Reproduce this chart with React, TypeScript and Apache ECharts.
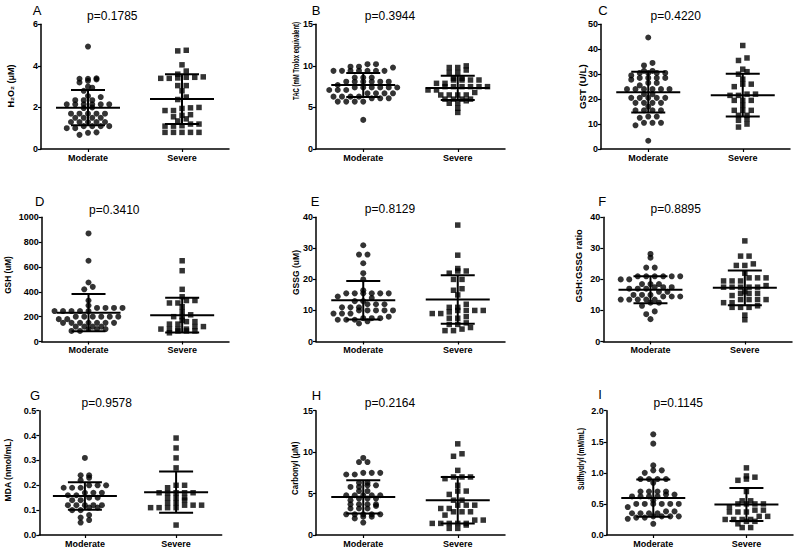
import React, { useEffect, useRef } from 'react';
import * as echarts from 'echarts';

const groups = ['Moderate', 'Severe'];

// A: H2O2
const A_mod = [4.93, 3.4, 3.38, 3.38, 3.35, 3.28, 3.2, 3.0, 2.95, 2.8, 2.55, 2.5, 2.35, 2.35, 2.35, 2.15, 2.15, 2.15, 2.15, 2.15, 2.15, 2.0, 1.97, 1.7, 1.7, 1.7, 1.7, 1.7, 1.5, 1.5, 1.5, 1.5, 1.3, 1.3, 1.3, 1.3, 1.3, 1.1, 1.1, 1.1, 1.1, 1.0, 1.0, 0.8, 0.78, 0.68];
const A_sev = [4.75, 4.72, 4.05, 3.75, 3.6, 3.47, 3.45, 3.45, 3.42, 3.4, 3.4, 3.05, 3.05, 2.8, 2.5, 2.38, 2.0, 1.98, 1.95, 1.85, 1.85, 1.65, 1.62, 1.55, 1.45, 1.35, 1.2, 1.2, 1.12, 1.1, 1.1, 0.8, 0.8, 0.8, 0.8, 0.8];
const A_mean = [1.99, 2.4];
const A_sd = [0.85, 1.2];

// B: TAC
const B_mod = [10.2, 10.2, 9.9, 9.9, 9.8, 9.4, 9.4, 9.4, 9.4, 9.4, 9.4, 9.4, 8.6, 8.6, 8.6, 8.1, 8.1, 8.1, 8.1, 8.1, 8.1, 7.7, 7.4, 7.4, 7.4, 7.4, 7.4, 7.4, 7.1, 7.1, 7.1, 6.7, 6.7, 6.7, 6.7, 6.3, 6.3, 6.3, 6.3, 6.1, 6.1, 6.1, 5.7, 5.7, 5.7, 5.7, 3.5];
const B_sev = [10.0, 9.8, 9.8, 9.5, 9.2, 9.2, 8.5, 8.5, 8.3, 8.3, 8.3, 8.3, 7.9, 7.9, 7.5, 7.5, 7.5, 7.5, 7.5, 7.5, 7.1, 7.1, 6.8, 6.5, 6.5, 6.5, 6.5, 6.0, 6.0, 6.0, 6.0, 5.8, 5.5, 5.5, 4.9, 4.4];
const B_mean = [7.7, 7.35];
const B_sd = [1.45, 1.47];

// C: GST
const C_mod = [44.7, 34.5, 33.5, 31.3, 31.3, 30.5, 30.5, 30.5, 30.5, 29.5, 28.5, 28.5, 28.5, 28.5, 27.8, 26.5, 26.5, 25.5, 24, 24, 24, 24, 24, 24, 22, 22, 20.5, 20.5, 20.5, 20.5, 20.5, 18.5, 18.5, 18.5, 18.5, 17, 15.5, 15.5, 15.5, 15.5, 13, 13, 12.5, 10.5, 10.5, 10.5, 9.5, 3.3];
const C_sev = [41.5, 36.5, 35.5, 32, 31, 30, 28, 26, 26, 25, 22, 22, 21.5, 21.5, 19.5, 19.5, 19.5, 17.5, 15.5, 15.5, 15.5, 13.5, 13.5, 12, 11.5, 10, 8.8];
const C_mean = [22.8, 21.6];
const C_sd = [8.2, 8.6];

// D: GSH
const D_mod = [870, 650, 475, 440, 420, 330, 290, 270, 270, 270, 270, 245, 245, 245, 245, 245, 200, 200, 200, 200, 200, 200, 180, 180, 150, 150, 150, 150, 150, 150, 150, 120, 120, 120, 120, 100, 100, 100, 85, 85];
const D_sev = [650, 570, 420, 360, 330, 330, 310, 310, 280, 240, 215, 200, 200, 170, 160, 160, 140, 140, 120, 120, 100, 100, 100, 100, 85, 85, 85, 70];
const D_mean = [232, 212];
const D_sd = [150, 140];

// E: GSSG
const E_mod = [31, 28, 28, 25.2, 22, 20, 16.5, 15.5, 15.5, 15.5, 15.5, 15.5, 15.5, 14.5, 14, 13, 13, 12, 12, 12, 11, 11, 11, 10, 10, 10, 10, 10, 9, 9, 9, 8, 7.5, 7.5, 7.5, 7, 7, 7, 6.5, 5.8];
const E_sev = [37.5, 27.8, 23.5, 22.7, 22.7, 22, 20, 20, 17, 16.5, 15, 12, 11, 11, 10, 10, 10, 10, 9.5, 9, 9, 8, 7.5, 7.5, 6, 5.5, 5.5, 4.5, 4, 3.5, 3.5];
const E_mean = [13.3, 13.5];
const E_sd = [6.2, 7.8];

// F: GSH:GSSG ratio
const F_mod = [28.2, 27, 23.8, 23.8, 21, 21, 21, 21, 21, 21, 20, 20, 18.5, 18.5, 18.5, 17.5, 17.5, 17.5, 17, 17, 17, 16, 16, 15, 15, 15, 14.5, 14.5, 14.5, 13.5, 13.5, 13.5, 13.5, 13.5, 12.5, 12.5, 11.5, 9.7, 8.8, 7.2];
const F_sev = [32.4, 27.5, 27.5, 25, 24.5, 24.5, 22, 20.5, 20.5, 20.5, 19.5, 19.5, 19.5, 18, 17.5, 17.5, 17.5, 17.5, 17.5, 16, 15.5, 15.5, 15.5, 14.8, 13.5, 13.5, 13.5, 13.5, 12.5, 12.5, 11.5, 11, 11, 11, 8.5, 7];
const F_mean = [16.7, 17.3];
const F_sd = [4.35, 5.6];

// G: MDA
const G_mod = [0.31, 0.24, 0.24, 0.23, 0.22, 0.2, 0.2, 0.2, 0.19, 0.19, 0.19, 0.17, 0.17, 0.17, 0.16, 0.16, 0.15, 0.15, 0.14, 0.14, 0.12, 0.12, 0.12, 0.12, 0.12, 0.11, 0.11, 0.1, 0.1, 0.08, 0.07, 0.06, 0.05];
const G_sev = [0.39, 0.35, 0.31, 0.27, 0.2, 0.2, 0.19, 0.17, 0.17, 0.17, 0.17, 0.17, 0.15, 0.15, 0.15, 0.14, 0.13, 0.13, 0.12, 0.12, 0.12, 0.11, 0.11, 0.11, 0.11, 0.04];
const G_mean = [0.157, 0.172];
const G_sd = [0.055, 0.083];

// H: Carbonyl
const H_mod = [9.3, 8.8, 8.8, 7.5, 7.5, 7.5, 7.3, 7.3, 6.3, 6.3, 6.0, 6.0, 5.8, 5.8, 5.3, 5.3, 4.8, 4.8, 4.8, 4.8, 4.8, 4.4, 4.4, 4.4, 4.2, 3.7, 3.7, 3.7, 3.7, 3.5, 3.2, 3.2, 3.2, 2.5, 2.5, 2.5, 2.5, 2.5, 2.2, 2.2, 2.0, 1.5];
const H_sev = [11, 9.8, 9.5, 7.8, 7.0, 7.0, 7.0, 6.8, 6.0, 5.3, 5.3, 4.9, 4.2, 4.2, 3.6, 3.6, 3.6, 3.2, 3.2, 2.8, 2.8, 2.8, 2.4, 1.8, 1.8, 1.4, 1.4, 1.4, 1.4, 1.4, 1.2, 0.8, 0.8];
const H_mean = [4.6, 4.2];
const H_sd = [2.0, 2.8];

// I: Sulfhydryl
const I_mod = [1.62, 1.47, 1.12, 1.04, 1.04, 1.0, 0.9, 0.9, 0.9, 0.9, 0.84, 0.7, 0.7, 0.7, 0.7, 0.65, 0.65, 0.62, 0.62, 0.62, 0.62, 0.56, 0.5, 0.5, 0.5, 0.5, 0.5, 0.5, 0.45, 0.38, 0.38, 0.35, 0.35, 0.35, 0.35, 0.3, 0.3, 0.3, 0.3, 0.28, 0.28, 0.26, 0.18];
const I_sev = [1.08, 0.95, 0.93, 0.9, 0.88, 0.7, 0.55, 0.55, 0.5, 0.5, 0.5, 0.5, 0.45, 0.4, 0.4, 0.37, 0.37, 0.37, 0.3, 0.3, 0.25, 0.25, 0.25, 0.25, 0.22, 0.22, 0.18, 0.12, 0.12];
const I_mean = [0.595, 0.49];
const I_sd = [0.3, 0.265];

const panels = [
  { letter: 'A', p: 'p=0.1785', name: 'H₂O₂ (μM)', max: 6, interval: 2, decimals: 0, mod: A_mod, sev: A_sev, mean: A_mean, sd: A_sd },
  { letter: 'B', p: 'p=0.3944', name: 'TAC (mM Trolox equivalent)', max: 15, interval: 5, decimals: 0, mod: B_mod, sev: B_sev, mean: B_mean, sd: B_sd },
  { letter: 'C', p: 'p=0.4220', name: 'GST (U/L)', max: 50, interval: 10, decimals: 0, mod: C_mod, sev: C_sev, mean: C_mean, sd: C_sd },
  { letter: 'D', p: 'p=0.3410', name: 'GSH (uM)', max: 1000, interval: 200, decimals: 0, mod: D_mod, sev: D_sev, mean: D_mean, sd: D_sd },
  { letter: 'E', p: 'p=0.8129', name: 'GSSG (uM)', max: 40, interval: 10, decimals: 0, mod: E_mod, sev: E_sev, mean: E_mean, sd: E_sd },
  { letter: 'F', p: 'p=0.8895', name: 'GSH:GSSG ratio', max: 40, interval: 10, decimals: 0, mod: F_mod, sev: F_sev, mean: F_mean, sd: F_sd },
  { letter: 'G', p: 'p=0.9578', name: 'MDA (nmol/mL)', max: 0.5, interval: 0.1, decimals: 1, mod: G_mod, sev: G_sev, mean: G_mean, sd: G_sd },
  { letter: 'H', p: 'p=0.2164', name: 'Carbonyl (μM)', max: 15, interval: 5, decimals: 0, mod: H_mod, sev: H_sev, mean: H_mean, sd: H_sd },
  { letter: 'I', p: 'p=0.1145', name: 'Sulfhydryl (mM/mL)', max: 2, interval: 0.5, decimals: 1, mod: I_mod, sev: I_sev, mean: I_mean, sd: I_sd },
];

// layout (pixels)
const layout = [
  { left: 41, top: 24.3, width: 188, height: 124.7, lx: 32.7, ly: 10, px: 112.3, py: 16, nx: 10.5, ny: 86, ns: 1 },
  { left: 316, top: 24.3, width: 189, height: 124.7, lx: 311.7, ly: 10, px: 390, py: 16, nx: 296.3, ny: 61, ns: 0.66 },
  { left: 601, top: 24.3, width: 189, height: 124.7, lx: 598.3, ly: 10, px: 675.7, py: 16, nx: 583.3, ny: 86.7, ns: 1.08 },
  { left: 41.7, top: 217.3, width: 187.3, height: 124.2, lx: 35, ly: 201.7, px: 114.3, py: 210, nx: 7.8, ny: 275, ns: 0.92 },
  { left: 316, top: 217.3, width: 189, height: 124.2, lx: 310.7, ly: 201, px: 390, py: 209, nx: 296.3, ny: 272.5, ns: 0.95 },
  { left: 603.3, top: 217.3, width: 188.7, height: 124.2, lx: 598.3, ly: 201.7, px: 675.7, py: 209, nx: 578.8, ny: 265.8, ns: 1.04 },
  { left: 39.3, top: 410.7, width: 182.4, height: 124.3, lx: 30, ly: 395, px: 106.7, py: 403.3, nx: 7.8, ny: 470, ns: 0.95 },
  { left: 316, top: 410.7, width: 189, height: 124.3, lx: 311.7, ly: 395, px: 390, py: 403.3, nx: 295, ny: 468.3, ns: 0.88 },
  { left: 606.7, top: 410.7, width: 186.3, height: 124.3, lx: 598.3, ly: 394, px: 678.3, py: 403.3, nx: 580.8, ny: 459, ns: 0.74 },
];

const FONT = 'Arial, "Liberation Sans", Helvetica, sans-serif';
const STEP = 8.5;
const TOL = 3.5;

function swarm(values: number[], center: number, pxX: number, pxY: number) {
  const sorted = [...values].sort((a, b) => a - b);
  const rows: number[][] = [];
  for (const v of sorted) {
    const r = rows[rows.length - 1];
    if (r && (v - r[0]) * pxY <= TOL) r.push(v);
    else rows.push([v]);
  }
  const out: number[][] = [];
  rows.forEach((r) => {
    r.forEach((v, i) => {
      out.push([center + ((i - (r.length - 1) / 2) * STEP) / pxX, v]);
    });
  });
  return out;
}

function renderMeanSd(params: any, api: any) {
  const x = api.value(0);
  const m = api.value(1);
  const s = api.value(2);
  const c = api.coord([x, m]);
  const u = api.coord([x, m + s]);
  const l = api.coord([x, m - s]);
  const st = { stroke: '#000', lineWidth: 2 };
  return {
    type: 'group',
    children: [
      { type: 'line', shape: { x1: c[0] - 32, y1: c[1], x2: c[0] + 32, y2: c[1] }, style: st },
      { type: 'line', shape: { x1: u[0] - 17, y1: u[1], x2: u[0] + 17, y2: u[1] }, style: st },
      { type: 'line', shape: { x1: l[0] - 17, y1: l[1], x2: l[0] + 17, y2: l[1] }, style: st },
      { type: 'line', shape: { x1: c[0], y1: u[1], x2: c[0], y2: l[1] }, style: st },
    ],
  };
}

export default function App() {
  const ref = useRef<HTMLDivElement>(null);
  useEffect(() => {
    document.body.style.margin = '0';
    if (!ref.current) return;
    const chart = echarts.init(ref.current, undefined, { renderer: 'svg' });

    const grid = layout.map((l) => ({
      left: l.left,
      top: l.top,
      width: l.width,
      height: l.height,
      containLabel: false,
      outerBoundsMode: 'none',
    }));

    const axisLine = { show: true, onZero: false, lineStyle: { color: '#000', width: 1.5 } };

    const xAxis = panels.map((p, i) => ({
      gridIndex: i,
      type: 'value',
      min: 0,
      max: 4,
      interval: 1,
      axisLine,
      axisTick: { show: true, length: 3, customValues: [1, 3], lineStyle: { color: '#000', width: 1.2 } },
      axisLabel: {
        customValues: [1, 3],
        formatter: (v: number) => (v === 1 ? groups[0] : v === 3 ? groups[1] : ''),
        fontSize: 9,
        fontWeight: 'bold',
        fontFamily: FONT,
        color: '#000',
        margin: 4,
      },
      splitLine: { show: false },
    }));

    const yAxis = panels.map((p, i) => ({
      gridIndex: i,
      type: 'value',
      min: 0,
      max: p.max,
      interval: p.interval,
      axisLine,
      axisTick: { show: true, length: 3, lineStyle: { color: '#000', width: 1.2 } },
      axisLabel: {
        fontSize: 9,
        fontWeight: 'bold',
        fontFamily: FONT,
        color: '#000',
        margin: 3,
        formatter: (v: number) => v.toFixed(p.decimals),
      },
      splitLine: { show: false },
    }));

    const series: any[] = [];
    panels.forEach((p, i) => {
      const l = layout[i];
      const pxX = l.width / 4;
      const pxY = l.height / p.max;
      series.push({
        type: 'scatter',
        name: groups[0],
        xAxisIndex: i,
        yAxisIndex: i,
        symbol: 'circle',
        symbolSize: 6,
        itemStyle: { color: '#000' },
        data: swarm(p.mod, 1, pxX, pxY),
        z: 2,
      });
      series.push({
        type: 'scatter',
        name: groups[1],
        xAxisIndex: i,
        yAxisIndex: i,
        symbol: 'rect',
        symbolSize: 5.5,
        itemStyle: { color: '#000' },
        data: swarm(p.sev, 3, pxX, pxY),
        z: 2,
      });
      series.push({
        type: 'custom',
        xAxisIndex: i,
        yAxisIndex: i,
        renderItem: renderMeanSd,
        encode: { x: 0, y: 1 },
        data: [
          [1, p.mean[0], p.sd[0]],
          [3, p.mean[1], p.sd[1]],
        ],
        z: 3,
      });
    });

    const graphic: any[] = [];
    panels.forEach((p, i) => {
      const l = layout[i];
      graphic.push({
        type: 'text',
        x: l.lx,
        y: l.ly,
        style: { text: p.letter, font: `13px ${FONT}`, fill: '#000', align: 'left', verticalAlign: 'middle', textAlign: 'left', textVerticalAlign: 'middle' },
      });
      graphic.push({
        type: 'text',
        x: l.px,
        y: l.py,
        style: { text: p.p, font: `12px ${FONT}`, fill: '#000', align: 'center', verticalAlign: 'middle', textAlign: 'center', textVerticalAlign: 'middle' },
      });
      graphic.push({
        type: 'text',
        x: l.nx,
        y: l.ny,
        rotation: Math.PI / 2,
        scaleX: l.ns,
        style: { text: p.name, font: `bold 9px ${FONT}`, fill: '#000', align: 'center', verticalAlign: 'middle', textAlign: 'center', textVerticalAlign: 'middle' },
      });
    });

    chart.setOption({
      animation: false,
      backgroundColor: '#fff',
      grid,
      xAxis,
      yAxis,
      series,
      graphic,
    });
    return () => chart.dispose();
  }, []);
  return <div ref={ref} style={{ width: 798, height: 557 }} />;
}
